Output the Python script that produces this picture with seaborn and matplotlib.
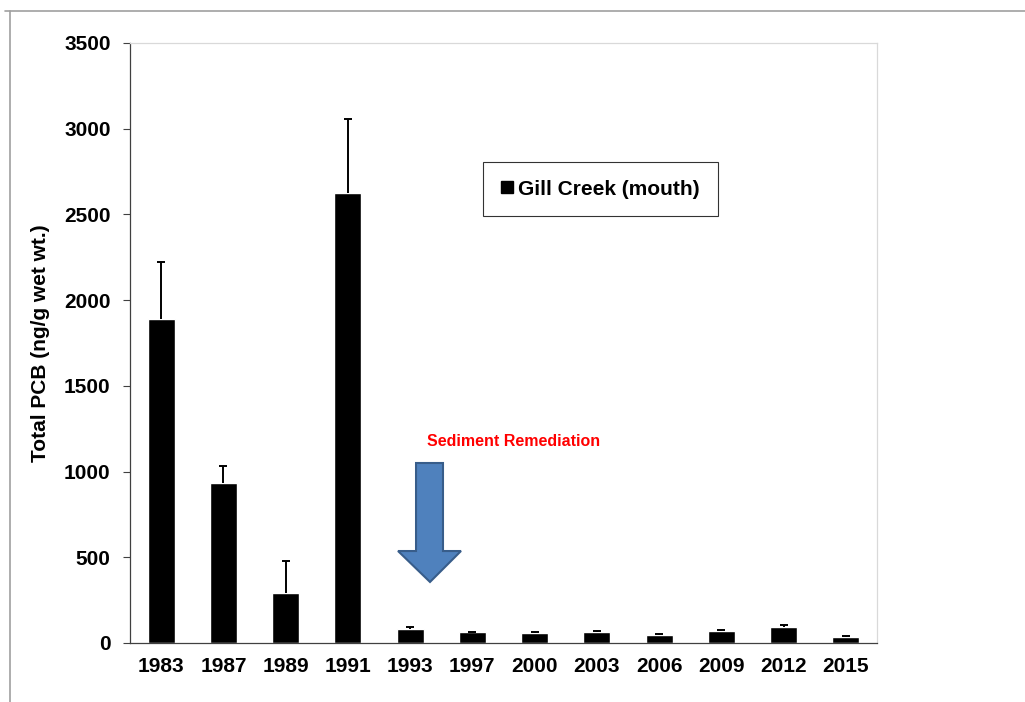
import numpy as np
import pandas as pd
import matplotlib.pyplot as plt
import seaborn as sns
from matplotlib.patches import Polygon
from matplotlib.lines import Line2D

# data
years = ['1983', '1987', '1989', '1991', '1993', '1997', '2000', '2003', '2006', '2009', '2012', '2015']
pcb = [1890, 935, 290, 2625, 82, 66, 58, 62, 47, 70, 91, 35]
err_up = [330, 95, 187, 432, 11, 0, 4, 8, 5, 4, 12, 6]

df = pd.DataFrame({'year': years, 'pcb': pcb})

sns.set_style('white')
plt.rcParams['font.family'] = ['Liberation Sans', 'DejaVu Sans']
plt.rcParams['text.color'] = 'black'
plt.rcParams['axes.labelcolor'] = 'black'
plt.rcParams['xtick.color'] = 'black'
plt.rcParams['ytick.color'] = 'black'

fig = plt.figure(figsize=(10.25, 7.02), dpi=100)
ax = fig.add_axes([130/1025, 59/702, 747/1025, 600/702])

sns.barplot(data=df, x='year', y='pcb', color='black', saturation=1,
            width=0.43, errorbar=None, ax=ax)
eb = ax.errorbar(np.arange(len(years)), pcb, yerr=[np.zeros(len(years)), err_up],
                 fmt='none', ecolor='black', elinewidth=1.4, capsize=2.8, capthick=1.4)
# only the upper caps, like the original
eb[1][0].set_visible(False)

ax.set_ylim(0, 3500)
ax.set_xlim(-0.5, len(years) - 0.5)
ax.set_yticks(range(0, 3501, 500))
ax.set_xlabel('')
ax.set_ylabel('Total PCB (ng/g wet wt.)', fontsize=15, fontweight='bold', labelpad=10)
for lab in ax.get_xticklabels() + ax.get_yticklabels():
    lab.set_fontweight('bold')
    lab.set_fontsize(15)

# excel-style ticks between categories
ax.tick_params(axis='x', which='major', length=0, pad=10)
ax.set_xticks(np.arange(-0.5, len(years), 1), minor=True)
ax.tick_params(axis='x', which='minor', direction='out', length=6, color='#404040', width=0.8)
ax.tick_params(axis='y', direction='out', length=5, color='#404040', width=0.8, left=True, pad=9)

for side in ['left', 'bottom']:
    ax.spines[side].set_color('#404040')
    ax.spines[side].set_linewidth(0.9)
for side in ['top', 'right']:
    ax.spines[side].set_color('#d9d9d9')
    ax.spines[side].set_linewidth(0.9)

handle = Line2D([], [], marker='s', color='black', linestyle='none', markersize=9)
leg = ax.legend([handle], ['Gill Creek (mouth)'], loc='upper left',
                bbox_to_anchor=(0.4726, 0.8017), frameon=True, fancybox=False,
                prop={'weight': 'bold', 'size': 15}, borderpad=0.85,
                handlelength=0.6, handletextpad=0.25, borderaxespad=0)
leg.get_frame().set_edgecolor('black')
leg.get_frame().set_linewidth(0.8)

# remediation arrow
arrow = Polygon([(0.3829, 0.300), (0.4190, 0.300), (0.4190, 0.1533), (0.4431, 0.1533),
                 (0.4016, 0.1017), (0.3588, 0.1533), (0.3829, 0.1533)],
                closed=True, transform=ax.transAxes, facecolor='#4f81bd',
                edgecolor='#385d8a', linewidth=1.5, zorder=5)
ax.add_patch(arrow)
ax.text(0.3976, 0.335, 'Sediment Remediation', transform=ax.transAxes, color='red',
        fontsize=11.5, fontweight='bold', va='center', ha='left')

# slide frame
fig.add_artist(Line2D([5/1025, 1], [1 - 11/702, 1 - 11/702], color='#a0a0a0', lw=1.2))
fig.add_artist(Line2D([10/1025, 10/1025], [0, 1 - 11/702], color='#a0a0a0', lw=1.2))

fig.savefig('out.png', dpi=100)
